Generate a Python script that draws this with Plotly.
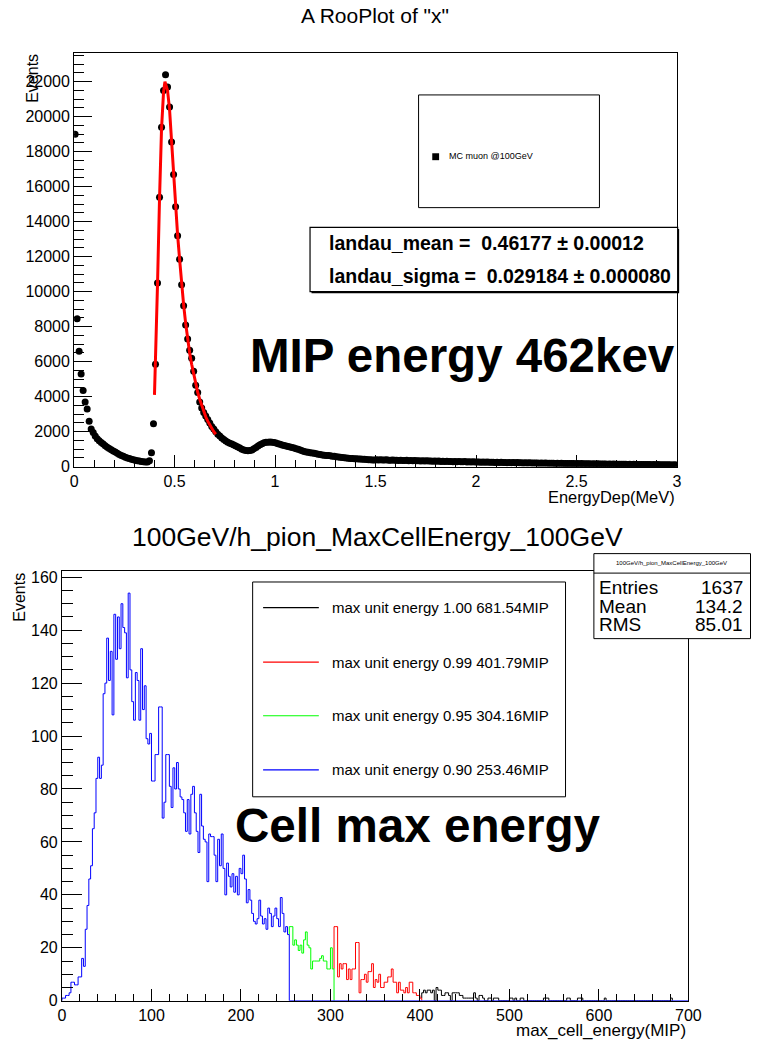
import numpy as np
import plotly.graph_objects as go

FONT = "Liberation Sans, Arial, Helvetica, sans-serif"
W, H = 764, 1048

# ---------------- top panel data (RooPlot) ----------------
energy_bin_width = 0.01  # MeV
mip_counts = [
    19000, 8450, 6600, 5300, 4350, 3700, 3300, 2600, 2150, 1950,
    1750, 1600, 1480, 1380, 1290, 1200, 1110, 1030, 960, 900,
    840, 770, 700, 640, 590, 540, 500, 460, 420, 390,
    360, 340, 320, 290, 275, 265, 270, 330, 800, 2450,
    5850, 10500, 15400, 19400, 21500, 22400, 21700, 20550, 18550, 16700,
    14850, 13200, 11850, 10400, 9200, 8100, 7300, 6650, 6200, 5450,
    4650, 4230, 3700, 3350, 3100, 2900, 2700, 2500, 2300, 2150,
    2000, 1850, 1750, 1640, 1550, 1470, 1400, 1340, 1290, 1240,
    1180, 1120, 1060, 1000, 950, 920, 910, 915, 950, 1020,
    1100, 1180, 1250, 1310, 1360, 1390, 1400, 1410, 1400, 1380,
    1350, 1310, 1280, 1240, 1210, 1180, 1150, 1120, 1090, 1060,
    1020, 990, 950, 910, 870, 840, 820, 800, 780, 760,
    740, 710, 690, 670, 650, 640, 630, 620, 600, 590,
    570, 555, 540, 520, 505, 490, 480, 470, 460, 455,
    450, 440, 430, 420, 415, 410, 400, 395, 385, 380,
    395, 385, 400, 380, 375, 390, 370, 365, 380, 360,
    365, 355, 370, 350, 345, 360, 340, 350, 335, 345,
    330, 340, 325, 335, 320, 330, 315, 325, 310, 320,
    305, 315, 300, 310, 295, 305, 290, 300, 285, 295,
    280, 290, 285, 275, 290, 270, 280, 265, 275, 270,
    260, 270, 255, 265, 250, 260, 245, 255, 250, 240,
    250, 235, 245, 230, 240, 228, 236, 224, 232, 220,
    230, 218, 226, 214, 222, 210, 218, 206, 214, 204,
    212, 200, 208, 196, 204, 192, 200, 190, 196, 186,
    194, 182, 190, 178, 186, 175, 182, 172, 178, 170,
    176, 166, 172, 162, 168, 158, 165, 155, 162, 152,
    158, 148, 155, 145, 152, 142, 148, 140, 145, 137,
    142, 134, 140, 130, 137, 128, 134, 125, 131, 122,
    128, 120, 126, 117, 123, 115, 120, 112, 118, 110,
    116, 108, 114, 105, 112, 102, 110, 100, 106, 98,
]
fit_x = [0.400, 0.405, 0.415, 0.425, 0.435, 0.445, 0.452, 0.465, 0.475, 0.485,
         0.495, 0.505, 0.515, 0.525, 0.535, 0.545, 0.555, 0.565, 0.575, 0.585,
         0.595, 0.605, 0.615, 0.625, 0.635, 0.645, 0.655, 0.665, 0.675, 0.685,
         0.695, 0.705]
fit_y = [4100, 5850, 10400, 15300, 19300, 21400, 22000, 21500, 20400, 18600,
         16700, 14900, 13250, 11850, 10450, 9250, 8200, 7300, 6500, 5850,
         5250, 4700, 4250, 3850, 3500, 3150, 2850, 2600, 2380, 2170,
         2000, 1850]
fit_labels = ["landau_mean =  0.46177 \u00b1 0.00012",
              "landau_sigma =  0.029184 \u00b1 0.000080"]

# ---------------- bottom panel data (histogram) ----------------
cell_bin_width = 2  # MIP
cell_range = [0, 700]
cell_counts = [
    1, 1, 2, 2, 3, 7, 7, 6, 6, 9, 9, 16, 13, 27, 36, 46, 51, 65, 71,
    84, 92, 84, 89, 116, 120, 137, 121, 132, 108, 146, 129, 145, 133, 150, 141, 139, 122, 154,
    125, 113, 106, 124, 121, 106, 133, 110, 119, 99, 97, 101, 83, 83, 93, 93, 111, 111, 69, 75,
    93, 93, 81, 73, 88, 80, 90, 80, 77, 76, 71, 64, 76,
    63, 78, 81, 71, 64, 56, 78, 66, 61, 60, 45, 63, 62, 62, 55, 45, 61, 51, 63, 50,
    40, 52, 47, 43, 48, 41, 47, 40, 50, 48, 55, 46, 37, 42, 38, 33, 30, 29, 31, 38,
    32, 29, 31, 27, 35, 33, 28, 32, 35, 31, 28, 39, 33, 26, 28, 25,
    28, 28, 21, 23, 21, 19, 21, 18, 23, 26, 21, 20, 12, 15, 15, 15, 15, 16, 17, 15,
    15, 12, 12, 20, 12,
    28, 28, 9, 14, 12, 14, 14, 8, 12, 8, 12, 12, 22, 22, 3, 8, 8, 10, 7, 11,
    11, 14, 5, 8, 7, 10, 5, 5, 7, 7, 9, 9, 12, 7, 7, 3, 7, 4, 4, 3,
    5, 3, 7, 7, 3, 3, 2, 2, 1,
    3, 4, 3, 4, 4, 3, 4, 0, 5, 4, 4, 2, 2, 3, 3, 2, 0, 3, 3, 3, 3, 2, 2, 1,
    1, 1, 1, 1, 1, 3, 1, 0, 2, 2, 1, 0, 0, 1, 1, 0, 1, 1, 1, 0, 0, 0, 0, 0, 0,
    1, 1, 0, 1, 0, 0, 1, 1, 0, 0, 0, 0, 0, 0, 0, 0, 0, 0, 0, 1,
    1, 1, 0, 0, 0, 0, 0, 0, 0, 0, 0, 0, 1, 1, 0, 0, 0, 0, 1, 1,
    1, 0, 0, 0, 0, 0, 0, 0, 0, 0,
    0, 0, 0, 1, 0, 0, 0, 0, 0, 0, 0, 0, 0, 0, 0, 0, 0, 0, 0, 0,
    0, 0, 0, 0, 0, 0, 0, 0, 0, 0, 0, 0, 0, 0, 0, 0, 0, 0, 0, 0,
    1, 0, 0, 0, 0, 0, 0, 0, 0, 0,
]
quantile_probs = ["1.00", "0.99", "0.95", "0.90"]
quantile_cuts = [681.54, 401.79, 304.16, 253.46]
quantile_colors = ["#000000", "#ff0000", "#00ff00", "#0000ff"]
stats_names = ["Entries", "Mean", "RMS"]
stats_values = ["1637", "134.2", "85.01"]


def px(x):
    return x / W


def py(y):
    return 1 - y / H


fig = go.Figure()

# ---- top panel traces ----
energy_x = (np.arange(len(mip_counts)) + 0.5) * energy_bin_width
fig.add_trace(go.Scatter(x=energy_x, y=mip_counts, mode="markers",
                         marker=dict(symbol="circle", size=7, color="black"),
                         xaxis="x", yaxis="y", showlegend=False, hoverinfo="skip"))
fig.add_trace(go.Scatter(x=fit_x, y=fit_y, mode="lines",
                         line=dict(color="#ff0000", width=3),
                         xaxis="x", yaxis="y", showlegend=False, hoverinfo="skip"))

# ---- bottom panel: one histogram, each colour shows the part between two quantile cuts ----
counts = np.array(cell_counts, dtype=float)
edges = np.arange(len(counts) + 1) * cell_bin_width
centers = edges[:-1] + cell_bin_width / 2
lower_cuts = quantile_cuts[1:] + [-np.inf]
for hi, lo, color in zip(quantile_cuts, lower_cuts, quantile_colors):
    idx = np.where((centers >= lo) & (centers < hi))[0]
    first, last = idx[0], idx[-1]
    y_prev = counts[first - 1] if first > 0 else 0.0
    xs = [edges[first]] + list(edges[idx]) + [edges[last + 1], edges[last + 1]]
    ys = [y_prev] + list(counts[idx]) + [counts[last], 0.0]
    if color == quantile_colors[-1]:
        xs.append(cell_range[1])
        ys.append(0.0)
    fig.add_trace(go.Scatter(x=xs, y=ys, mode="lines",
                             line=dict(color=color, width=1, shape="hv"),
                             xaxis="x2", yaxis="y2", showlegend=False, hoverinfo="skip"))

axis_common = dict(showline=True, mirror=True, linecolor="black", linewidth=1,
                   ticks="inside", tickcolor="black", tickwidth=1,
                   showgrid=False, zeroline=False,
                   tickfont=dict(family=FONT, size=16, color="black"))


def minor(dt, ln):
    return dict(dtick=dt, ticks="inside", ticklen=ln, tickcolor="black", tickwidth=1)


fig.update_layout(
    width=W, height=H, autosize=False,
    margin=dict(l=0, r=0, t=0, b=0),
    paper_bgcolor="white", plot_bgcolor="white",
    font=dict(family=FONT, color="black"),
    xaxis=dict(domain=[px(71.7), px(688.3)], range=[0, 3], anchor="y",
               tick0=0, dtick=0.5, ticklen=12, minor=minor(0.1, 7), **axis_common),
    yaxis=dict(domain=[py(469), py(51)], range=[0, 23616], anchor="x",
               tick0=0, dtick=2000, tickformat="d", ticklen=18, minor=minor(500, 10),
               **axis_common),
    xaxis2=dict(domain=[px(59.3), px(700)], range=cell_range, anchor="y2",
                tick0=0, dtick=100, ticklen=12, minor=minor(20, 7), **axis_common),
    yaxis2=dict(domain=[py(1009.3), py(575)], range=[0, 162.2], anchor="x2",
                tick0=0, dtick=20, ticklen=20, minor=minor(5, 11), **axis_common),
)

shapes = []
ann = []


def text(x, y, s, size, xanchor="center", yanchor="middle", angle=0, bold=False):
    ann.append(dict(x=px(x), y=py(y), xref="paper", yref="paper",
                    text=("<b>%s</b>" % s) if bold else s,
                    showarrow=False, xanchor=xanchor, yanchor=yanchor, textangle=angle,
                    font=dict(family=FONT, size=size, color="black")))


def rect(x0, y0, x1, y1, width=1, fill="white", line="black"):
    shapes.append(dict(type="rect", xref="paper", yref="paper", x0=px(x0), x1=px(x1),
                       y0=py(y1), y1=py(y0), line=dict(color=line, width=width),
                       fillcolor=fill, layer="above"))


def hline(x0, x1, y, color="black", width=1):
    shapes.append(dict(type="line", xref="paper", yref="paper", x0=px(x0), x1=px(x1),
                       y0=py(y), y1=py(y), line=dict(color=color, width=width), layer="above"))


# ---- top panel decorations ----
text(379, 13, 'A RooPlot of "x"', 21)
text(688.3, 499.5, "EnergyDep(MeV)", 16.4, xanchor="right")
text(28.3, 76, "Events", 16, angle=-90)

rect(424, 93, 609, 207)
shapes.append(dict(type="rect", xref="paper", yref="paper", x0=px(438), x1=px(445),
                   y0=py(159), y1=py(152), line=dict(color="black", width=0),
                   fillcolor="black", layer="above"))
text(453, 155, "MC muon @100GeV", 9, xanchor="left")

rect(314.5, 228.5, 690.5, 293.5, width=0, fill="black")          # thin pave shadow
rect(313, 227, 689, 292, width=1.2)
text(330, 243, fit_labels[0], 19.5, xanchor="left", bold=True)
text(330, 276, fit_labels[1], 19.5, xanchor="left", bold=True)

text(469, 357, "MIP energy 462kev", 47.5, bold=True)

# ---- bottom panel decorations ----
text(382, 540, "100GeV/h_pion_MaxCellEnergy_100GeV", 26.5)
text(700, 1039, "max_cell_energy(MIP)", 17, xanchor="right")
text(15, 601, "Events", 16, angle=-90)

rect(254.3, 585.7, 574.3, 803)
leg_y = [611.7, 666.7, 721, 775.7]
for yy, prob, cut, color in zip(leg_y, quantile_probs, quantile_cuts, quantile_colors):
    hline(265, 322, yy, color=color, width=1.2)
    text(333, yy, "max unit energy %s %.2fMIP" % (prob, cut), 15, xanchor="left")

rect(603.3, 557, 763.5, 643)
hline(603.3, 763.5, 576.7)
text(683, 566, "100GeV/h_pion_MaxCellEnergy_100GeV", 6)
for yy, name, val in zip([591.5, 610.7, 629], stats_names, stats_values):
    text(606, yy, name, 19, xanchor="left")
    text(758, yy, val, 19, xanchor="right")

text(423, 831.7, "Cell max energy", 47.6, bold=True)

fig.update_layout(shapes=shapes, annotations=ann)
fig.write_html("out.html")
